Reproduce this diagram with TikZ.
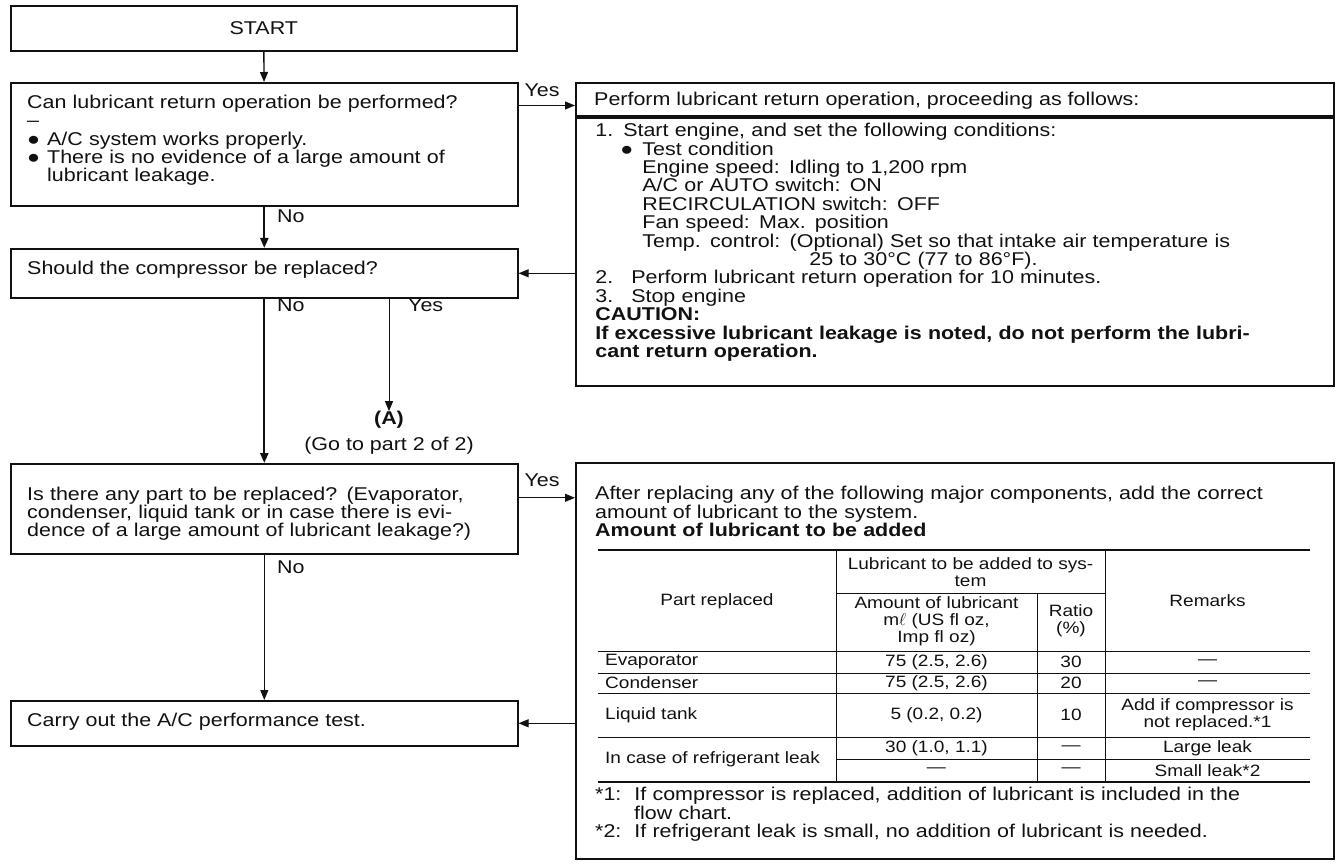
\documentclass[tikz,border=0pt]{standalone}
\usepackage{fontspec}
\setmainfont{Liberation Sans}[FakeStretch=1.16]
\usepackage{tikz}
\usetikzlibrary{arrows.meta,positioning}
\definecolor{inkcol}{HTML}{111111}
\newcommand{\bodyfont}{\fontsize{18.5}{18.4}\selectfont}
\newcommand{\tabfont}{\fontsize{16.4}{17}\selectfont}
\newcommand{\blt}{●\hspace{7pt}}

\begin{document}
\begin{tikzpicture}[x=1pt,y=-1pt,font=\bodyfont,inkcol,
  box/.style={draw=inkcol,line width=1.6pt,anchor=north west,inner sep=0pt},
  txt/.style={align=left,inner sep=0pt},
  cell/.style={font=\tabfont,align=center,inner sep=0pt},
  lbl/.style={inner sep=0pt},
  ar/.style={-{Triangle[length=10pt,width=8pt]},line width=1pt},
  heavy/.style={line width=2.2pt},
  rule/.style={line width=0.8pt},
  thickrule/.style={line width=2.6pt},
]
\useasboundingbox (0,0) rectangle (1344,866);

% left column of questions
\node[box,minimum width=506pt,minimum height=45pt] (start) at (10,5) {START};
\node[box,minimum width=507pt,minimum height=123pt] (q1) at (10,82) {};
\node[txt,anchor=west,text width=484pt] (q1txt) at ([xshift=17pt,yshift=4pt]q1.west)
  {Can lubricant return operation be performed?\\
   –\\
   \blt A/C system works properly.\\
   \blt There is no evidence of a large amount of\\
   \hspace*{20pt}lubricant leakage.};
\node[box,minimum width=507pt,minimum height=49pt] (q2) at (10,248) {};
\node[txt,anchor=west] (q2txt) at ([xshift=17pt,yshift=4pt]q2.west)
  {Should the compressor be replaced?};
\node[box,minimum width=507pt,minimum height=90pt] (q3) at (10,463) {};
\node[txt,anchor=west,text width=484pt] (q3txt) at ([xshift=17pt,yshift=-5pt]q3.west)
  {Is there any part to be replaced? (Evaporator,\\
   condenser, liquid tank or in case there is evi-\\
   dence of a large amount of lubricant leakage?)};
\node[box,minimum width=507pt,minimum height=45pt] (q4) at (10,700) {};
\node[txt,anchor=west] (q4txt) at ([xshift=17pt,yshift=2pt]q4.west)
  {Carry out the A/C performance test.};

% lubricant return operation
\node[box,minimum width=758pt,minimum height=33pt,line width=2pt] (ret) at (575,82) {};
\node[txt,anchor=west] (rettxt) at ([xshift=19pt,yshift=-1pt]ret.west)
  {Perform lubricant return operation, proceeding as follows:};
\node[box,minimum width=758pt,minimum height=268pt,below=0pt of ret] (retbody) {};
\node[txt,anchor=north west,text width=735pt] (steps)
  at ([xshift=20pt,yshift=-6pt]retbody.north west)
  {1.\hspace{10pt}Start engine, and set the following conditions:\\
   \hspace*{25pt}●\hspace{9pt}Test condition\\
   \hspace*{47pt}Engine speed: Idling to 1,200 rpm\\
   \hspace*{47pt}A/C or AUTO switch: ON\\
   \hspace*{47pt}RECIRCULATION switch: OFF\\
   \hspace*{47pt}Fan speed: Max. position\\
   \hspace*{47pt}Temp. control: (Optional) Set so that intake air temperature is\\
   \hspace*{214pt}25 to 30°C (77 to 86°F).\\
   2.\hspace{18pt}Perform lubricant return operation for 10 minutes.\\
   3.\hspace{18pt}Stop engine\\
   \textbf{CAUTION:}\\
   \textbf{If excessive lubricant leakage is noted, do not perform the lubri-}\\
   \textbf{cant return operation.}};

% lubricant to be added
\node[box,minimum width=758pt,minimum height=396pt] (add) at (575,462) {};
\node[txt,anchor=north west,text width=735pt] (addtxt)
  at ([xshift=20pt,yshift=-24pt]add.north west)
  {After replacing any of the following major components, add the correct\\
   amount of lubricant to the system.\\
   \textbf{Amount of lubricant to be added}};

\draw[thickrule] (598,550) -- (1310,550);
\draw[rule] (836,593) -- (1105,593);
\draw[rule] (598,651) -- (1310,651);
\draw[rule] (598,673) -- (1310,673);
\draw[rule] (598,693) -- (1310,693);
\draw[rule] (598,737) -- (1310,737);
\draw[rule] (836,759) -- (1310,759);
\draw[thickrule] (598,782) -- (1310,782);
\draw[rule] (836,550) -- (836,782);
\draw[rule] (1037,593) -- (1037,782);
\draw[rule] (1105,550) -- (1105,782);

\node[cell] (hpart) at (717,601) {Part replaced};
\node[cell] (hlub) at (970.5,572) {Lubricant to be added to sys-\\tem};
\node[cell] (hamt) at (936.5,621) {Amount of lubricant\\m$\ell$ (US fl oz,\\Imp fl oz)};
\node[cell] (hratio) at (1071,621) {Ratio\\(\%)};
\node[cell] (hrem) at (1207.5,601) {Remarks};

\node[cell,anchor=west] (evap) at (605,662) {Evaporator};
\node[cell] (evapamt) at (936.5,662) {75 (2.5, 2.6)};
\node[cell] (evapratio) at (1071,662) {30};
\node[cell] (evaprem) at (1207.5,662) {—};
\node[cell,anchor=west] (cond) at (605,683) {Condenser};
\node[cell] (condamt) at (936.5,683) {75 (2.5, 2.6)};
\node[cell] (condratio) at (1071,683) {20};
\node[cell] (condrem) at (1207.5,683) {—};
\node[cell,anchor=west] (tank) at (605,715) {Liquid tank};
\node[cell] (tankamt) at (936.5,715) {5 (0.2, 0.2)};
\node[cell] (tankratio) at (1071,715) {10};
\node[cell] (tankrem) at (1207.5,715) {Add if compressor is\\not replaced.*1};
\node[cell,anchor=west] (leak) at (605,759) {In case of refrigerant leak};
\node[cell] (bigamt) at (936.5,748) {30 (1.0, 1.1)};
\node[cell] (bigratio) at (1071,748) {—};
\node[cell] (bigrem) at (1207.5,748) {Large leak};
\node[cell] (smallamt) at (936.5,770.5) {—};
\node[cell] (smallratio) at (1071,770.5) {—};
\node[cell] (smallrem) at (1207.5,770.5) {Small leak*2};

\node[txt,anchor=north west,text width=735pt] (notes)
  at ([xshift=20pt,yshift=-325pt]add.north west)
  {*1:\hspace{13pt}If compressor is replaced, addition of lubricant is included in the\\
   \hspace*{39pt}flow chart.\\
   {}*2:\hspace{13pt}If refrigerant leak is small, no addition of lubricant is needed.};

% connectors
\draw[ar,line width=1.4pt] (start) -- (q1);
\coordinate (yesin) at ([yshift=-6pt]ret.west);
\draw[ar] (q1.east |- yesin) -- (yesin);
\node[lbl] (yes1) at (542,90) {Yes};
\draw[ar,heavy] (q1) -- (q2);
\node[lbl,anchor=west] (no1) at (277,216) {No};
\draw[ar] (retbody.west |- q2.east) -- (q2.east);
\draw[ar,heavy] (q2) -- (q3);
\node[lbl,anchor=west] (no2) at (277,305) {No};
\node[lbl,font=\bodyfont\bfseries] (ptA) at (389,420) {(A)};
\draw[ar] (q2.south -| ptA) -- (ptA);
\node[lbl,anchor=west] (yes2) at (408,305) {Yes};
\node[lbl] (goto) at (389,446) {(Go to part 2 of 2)};
\coordinate (yesin2) at ([yshift=11pt]q3.east);
\draw[ar] (yesin2) -- (yesin2 -| add.west);
\node[lbl] (yes3) at (542,480) {Yes};
\draw[ar] (q3) -- (q4);
\node[lbl,anchor=west] (no3) at (277,567) {No};
\draw[ar] (add.west |- q4.east) -- (q4.east);
\end{tikzpicture}
\end{document}
